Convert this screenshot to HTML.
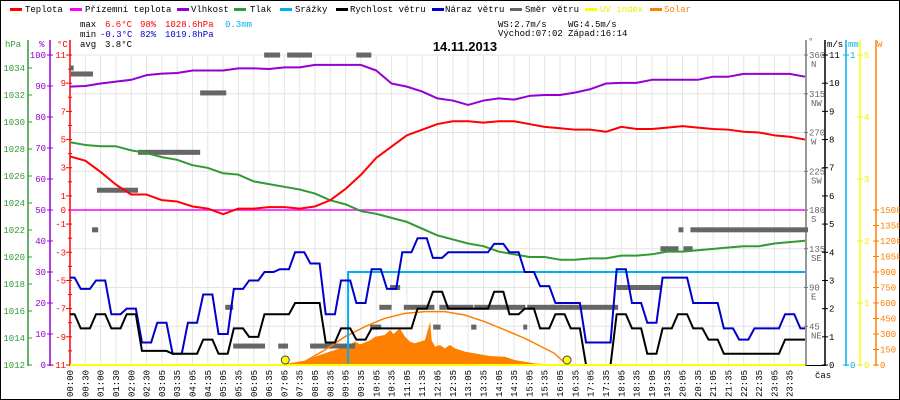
<!DOCTYPE html>
<html><head><meta charset="utf-8"><style>
html,body{margin:0;padding:0;background:#fff;}
svg{display:block;font-family:"Liberation Mono",monospace;}
text{font-size:9px;}
</style></head><body>
<svg id="chart" width="900" height="400" viewBox="0 0 900 400" xmlns="http://www.w3.org/2000/svg">
<rect x="0.5" y="0.5" width="899" height="399" fill="#fff" stroke="#000"/>
<g id="legend" font-size="9">
 <g><rect x="10" y="8" width="12" height="3" fill="#f00"/><text x="25" y="12">Teplota</text></g>
 <g><rect x="70" y="8" width="12" height="3" fill="#f0f"/><text x="85" y="12">Přízemní teplota</text></g>
 <g><rect x="177" y="8" width="12" height="3" fill="#9400d3"/><text x="191" y="12">Vlhkost</text></g>
 <g><rect x="234" y="8" width="12" height="3" fill="#339933"/><text x="250" y="12">Tlak</text></g>
 <g><rect x="280" y="8" width="12" height="3" fill="#00b0f0"/><text x="295" y="12">Srážky</text></g>
 <g><rect x="336" y="8" width="12" height="3" fill="#000"/><text x="350" y="12">Rychlost větru</text></g>
 <g><rect x="432" y="8" width="12" height="3" fill="#0000cc"/><text x="445" y="12">Náraz větru</text></g>
 <g><rect x="510" y="8" width="12" height="3" fill="#666"/><text x="525" y="12">Směr větru</text></g>
 <g><rect x="585" y="8" width="12" height="3" fill="#ff0"/><text x="600" y="12" fill="#ee0">UV index</text></g>
 <g><rect x="650" y="8" width="12" height="3" fill="#ff8000"/><text x="664" y="12" fill="#ff8000">Solar</text></g>
</g>
<g>
 <text x="80" y="27">max</text><text x="105" y="27" fill="#f00">6.6°C</text><text x="140" y="27" fill="#f00">98%</text><text x="165" y="27" fill="#f00">1028.6hPa</text><text x="225" y="27" fill="#00b0f0">0.3mm</text>
 <text x="80" y="37">min</text><text x="100" y="37" fill="#00c">-0.3°C</text><text x="140" y="37" fill="#00c">82%</text><text x="165" y="37" fill="#00c">1019.8hPa</text>
 <text x="80" y="47">avg</text><text x="105" y="47">3.8°C</text>
 <text x="498" y="27">WS:2.7m/s</text><text x="568" y="27">WG:4.5m/s</text>
 <text x="498" y="36">Východ:07:02</text><text x="568" y="36">Západ:16:14</text>
</g>
<text x="465" y="51" text-anchor="middle" font-family="Liberation Sans, sans-serif" font-weight="bold" style="font-size:13px">14.11.2013</text>
<g>
 <text x="5" y="47" fill="#339933">hPa</text><text x="39" y="47" fill="#9400d3">%</text><text x="57" y="47" fill="#f00">°C</text>
 <text x="808" y="44" fill="#666">°</text><text x="827" y="47">m/s</text><text x="848" y="47" fill="#00b0f0">mm</text><text x="877" y="47" fill="#ff8000">W</text>
 <text x="815" y="378">čas</text>
</g>
<g id="plot"></g>
</svg>
<script>
// ---- data (30-minute samples, index 0..48 = 00:00..24:00) ----
const timeLabels = ["00:00","00:30","01:00","01:30","02:00","02:30","03:05","03:35","04:05","04:35","05:05","05:35","06:05","06:35","07:05","07:35","08:05","08:35","09:05","09:35","10:05","10:35","11:05","11:35","12:05","12:35","13:05","13:35","14:05","14:35","15:05","15:35","16:05","16:35","17:05","17:35","18:05","18:35","19:05","19:35","20:05","20:35","21:05","21:35","22:05","22:35","23:05","23:35"];
const temperature = [3.8,3.5,2.7,1.8,1.1,1.1,0.7,0.6,0.25,0.1,-0.3,0.1,0.1,0.2,0.2,0.1,0.25,0.7,1.5,2.5,3.7,4.5,5.3,5.7,6.1,6.3,6.3,6.2,6.3,6.3,6.1,5.9,5.8,5.7,5.7,5.55,5.9,5.75,5.75,5.85,5.95,5.85,5.75,5.7,5.55,5.5,5.3,5.2,5.0];
const apparentTemp = [0,0,0,0,0,0,0,0,0,0,0,0,0,0,0,0,0,0,0,0,0,0,0,0,0,0,0,0,0,0,0,0,0,0,0,0,0,0,0,0,0,0,0,0,0,0,0,0,0];
const humidity = [89.8,90,90.8,91.4,92,93.5,94,94.2,95,95,95,95.7,95.7,95.5,96,96,96.8,96.8,96.8,96.8,95,90.8,89.8,88.2,86,85.3,83.9,85.3,86,85.6,86.8,87.1,87.1,87.9,89,90.8,91,91,92,92,92,92,93,93,93.9,93.9,93.9,93.9,93];
const pressure = [1028.5,1028.3,1028.2,1028.2,1027.9,1027.7,1027.4,1027.2,1026.8,1026.6,1026.2,1026.1,1025.6,1025.4,1025.2,1025.0,1024.7,1024.2,1023.9,1023.4,1023.2,1022.9,1022.6,1022.1,1021.6,1021.3,1021.0,1020.8,1020.4,1020.2,1020.0,1020.0,1019.8,1019.8,1019.9,1019.9,1020.1,1020.1,1020.2,1020.4,1020.4,1020.5,1020.6,1020.7,1020.8,1020.8,1021.0,1021.1,1021.2];
const windSpeed = [1.8,1.3,1.8,1.3,1.8,0.5,0.5,0.4,0.4,0.9,0.4,1.3,1.0,1.8,1.8,2.2,2.2,0.8,1.3,0.9,1.3,1.3,1.3,2.0,2.6,2.0,2.0,2.0,2.6,1.8,2.0,1.3,1.8,1.3,0,0,1.8,1.3,0.4,1.3,1.8,1.3,0.9,0.4,0.4,0.4,0.4,0.9,0.9];
const windGust = [3.1,2.7,3.0,1.8,2.0,0.8,1.5,0.4,1.5,2.5,1.1,2.7,3.0,3.3,3.4,4.0,3.6,1.8,3.0,2.2,3.4,2.7,4.0,4.5,3.8,4.0,4.0,4.0,4.3,4.0,3.3,2.8,2.2,2.2,0.8,0.8,3.4,2.2,1.5,3.1,3.1,2.2,2.2,1.3,0.9,1.3,1.3,1.8,1.3];
const uvIndex = [0,0,0,0,0,0,0,0,0,0,0,0,0,0,0,0,0,0,0,0,0,0,0,0,0,0,0,0,0,0,0,0,0,0,0,0,0,0,0,0,0,0,0,0,0,0,0,0,0];
const rainHours = [0,9.08,9.08,24];
const rainMM = [0,0,0.3,0.3];
const dirStart = [0.0,0.03,0.72,0.88,2.22,4.25,5.07,5.33,6.34,6.8,7.09,7.84,9.35,9.8,10.1,10.45,10.9,11.86,12.06,13.1,13.2,14.8,14.93,15.7,17.84,19.28,19.87,20.03,20.26];
const dirEnd   = [0.12,0.75,0.92,2.22,4.25,5.1,5.33,6.37,6.86,7.12,7.9,9.31,9.84,10.16,10.5,10.78,11.9,12.1,13.17,13.27,14.87,14.93,15.85,17.9,19.28,19.87,20.03,20.33,24.1];
const dirDeg   = [345,338,157,203,247,316,67,22,360,22,360,22,360,44,67,90,67,44,67,44,67,44,67,67,90,135,157,135,157];
const solarHours = [7.0,7.3,7.67,7.99,8.49,8.98,9.31,9.47,9.8,9.96,10.28,10.45,10.56,10.77,10.94,11.1,11.26,11.43,11.59,11.76,11.81,11.92,12.08,12.24,12.4,12.57,12.89,13.22,13.71,14.2,14.52,14.85,15.17,15.82,16.0];
const solarW = [0,10,32,80,129,177,226,200,240,274,290,339,300,355,274,226,210,226,240,419,240,177,193,161,193,161,129,113,87,80,48,32,16,3,0];
const theoHours = [6.96,7.67,8.32,8.98,9.63,10.28,10.94,11.59,12.24,12.89,13.54,14.2,14.85,15.5,15.82,16.23];
const theoW = [0,35,145,274,371,452,500,516,516,484,419,339,258,161,113,0];
const sunEvents = [7.03,16.23];

const X0=70, X1=805;
const xH = h => X0 + h*(X1-X0)/24;
const xI = i => xH(i*0.5);
const yT = t => 210 - t*14.09;
const yHum = p => 365 - p*3.1;
const yP = p => 365 - (p-1012)*13.5;
const yV = v => 365 - v*28.18;
const yD = d => 365 - d*0.861;
const yW = w => 365 - w*0.10333;
const yMM = m => 365 - m*310;
const yUV = u => 365 - u*62;

const NS='http://www.w3.org/2000/svg';
const plot=document.getElementById('plot');
function mk(tag, attrs, parent){const e=document.createElementNS(NS,tag);for(const k in attrs)e.setAttribute(k,attrs[k]);(parent||plot).appendChild(e);return e;}

for(let i=0;i<timeLabels.length;i++){
  const g=mk('line',{x1:xI(i),x2:xI(i),y1:55,y2:365,stroke:'#e4e4e4','stroke-width':1});
  
  
  const lbl=mk('text',{x:0,y:0,transform:`translate(${xI(i)+3},397) rotate(-90)`});
  lbl.textContent=timeLabels[i];
  
  
}
for(let d=45;d<=360;d+=45){
  const g=mk('line',{x1:X0,x2:X1,y1:yD(d),y2:yD(d),stroke:'#e4e4e4','stroke-width':1});
  
  
}

function vaxis(x,y1,color,name){const a=mk('line',{x1:x,x2:x,y1:y1,y2:366,stroke:color,'stroke-width':1.5});}
vaxis(28,40,'#339933','pressure-axis');
vaxis(50,40,'#9400d3','humidity-axis');
vaxis(70,40,'#f00','temperature-axis');
for(let p=1012;p<=1034;p+=2){
  mk('line',{x1:28,x2:32,y1:yP(p),y2:yP(p),stroke:'#339933'});
  const t=mk('text',{x:25,y:yP(p)+3,'text-anchor':'end',fill:'#339933'});t.textContent=p;
  
  
}
for(let h=0;h<=100;h+=10){
  mk('line',{x1:47,x2:53,y1:yHum(h),y2:yHum(h),stroke:'#9400d3'});
  const t=mk('text',{x:46,y:yHum(h)+3,'text-anchor':'end',fill:'#9400d3'});t.textContent=h;
  
  
}
for(let c=-11;c<=11;c++){
  mk('line',{x1:c%2?66:68,x2:72,y1:yT(c),y2:yT(c),stroke:'#f00'});
  if(c%2!==0||c===0){const t=mk('text',{x:66,y:yT(c)+3,'text-anchor':'end',fill:'#f00'});t.textContent=c;
  
  }
}
const bx=mk('line',{x1:X0,x2:826,y1:365.5,y2:365.5,stroke:'#000'});



vaxis(806,40,'#777','direction-axis');
vaxis(825,40,'#000','wind-speed-axis');
vaxis(846,40,'#00b0f0','precipitation-axis');
vaxis(860,40,'#ff0','uv-axis');
vaxis(876,40,'#ff8000','solar-axis');
const dirNames=['','NE','E','SE','S','SW','W','NW','N'];
for(let k=1;k<=8;k++){
  const d=k*45;
  mk('line',{x1:804,x2:808,y1:yD(d),y2:yD(d),stroke:'#777'});
  const t=mk('text',{x:809,y:yD(d)+3,fill:'#666'});t.textContent=d;
  
  
  const t2=mk('text',{x:811,y:yD(d)+12,fill:'#666'});t2.textContent=dirNames[k];
  
  
}
for(let v=0;v<=11;v++){
  mk('line',{x1:822,x2:828,y1:yV(v),y2:yV(v),stroke:'#000'});
  const t=mk('text',{x:829,y:yV(v)+3});t.textContent=v;
  
  
}
[0,1].forEach(m=>{
  mk('line',{x1:843,x2:849,y1:yMM(m),y2:yMM(m),stroke:'#00b0f0'});
  const t=mk('text',{x:850,y:yMM(m)+3,fill:'#00b0f0'});t.textContent=m;
  
  
});
for(let u=0;u<=5;u++){
  mk('line',{x1:857,x2:863,y1:yUV(u),y2:yUV(u),stroke:'#ee0'});
  const t=mk('text',{x:864,y:yUV(u)+3,fill:'#ee0'});t.textContent=u;
  
  
}
for(let w=0;w<=1500;w+=150){
  mk('line',{x1:873,x2:879,y1:yW(w),y2:yW(w),stroke:'#ff8000'});
  const t=mk('text',{x:880,y:yW(w)+3,fill:'#ff8000'});t.textContent=w;
  
  
}

let sp=`M${xH(solarHours[0])},365 `;
for(let i=0;i<solarHours.length;i++) sp+=`L${xH(solarHours[i])},${yW(solarW[i])} `;
sp+=`L${xH(solarHours[solarHours.length-1])},365 Z`;
const sa=mk('path',{d:sp,fill:'#ff8000',stroke:'none'});



for(let i=0;i<dirStart.length;i++){
  const r=mk('rect',{x:xH(dirStart[i]),y:yD(dirDeg[i])-2.5,width:Math.max(3,xH(dirEnd[i])-xH(dirStart[i])),height:5,fill:'#666'});
  
  
}

function series(vals,yf,color,w){
  const pts=vals.map((v,i)=>`${xI(i)},${yf(v)}`).join(' ');
  return mk('polyline',{points:pts,fill:'none',stroke:color,'stroke-width':w,'stroke-linejoin':'round'});
}
// plateau-style series (wind): hold each value around its sample, ramp between
function plateau(vals,yf,color,w){
  const pts=[];
  vals.forEach((v,i)=>{
    const a=Math.max(0,i-0.3), b=Math.min(vals.length-1,i+0.3);
    pts.push(`${xI(a)},${yf(v)}`);
    pts.push(`${xI(b)},${yf(v)}`);
  });
  return mk('polyline',{points:pts.join(' '),fill:'none',stroke:color,'stroke-width':w,'stroke-linejoin':'miter'});
}
const sApp=series(apparentTemp,yT,'#f0f',1.5);


const tp=theoHours.map((h,i)=>`${xH(h)},${yW(theoW[i])}`).join(' ');
const tl=mk('polyline',{points:tp,fill:'none',stroke:'#ff8000','stroke-width':1.5});


const rp=rainHours.map((h,i)=>`${xH(h)},${yMM(rainMM[i])}`).join(' ');
const rl=mk('polyline',{points:rp,fill:'none',stroke:'#00b0f0','stroke-width':2});


const sP=series(pressure,yP,'#339933',2);


const sH=series(humidity,yHum,'#9400d3',2);


const sT=series(temperature,yT,'#f00',2);


const sG=plateau(windGust,yV,'#0000cc',2);


const sW=plateau(windSpeed,yV,'#000',2);


const sU=series(uvIndex,yUV,'#ff0',2);


sunEvents.forEach(h=>{
  const c=mk('circle',{cx:xH(h),cy:360,r:4,fill:'#ff0',stroke:'#444','stroke-width':1});
  
  
});
</script>
</body></html>
